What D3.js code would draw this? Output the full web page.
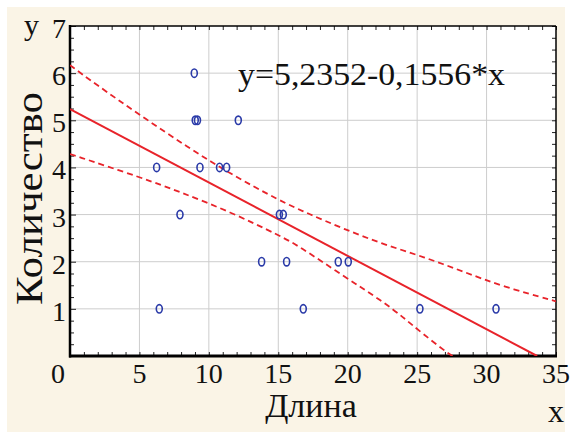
<!DOCTYPE html>
<html><head><meta charset="utf-8">
<script src="https://cdn.jsdelivr.net/npm/d3@7"></script>
<style>html,body{margin:0;padding:0;background:#fff;} svg{display:block}</style>
</head><body>
<script>
// ---- data ----
const pointX = [6.24, 6.43, 7.92, 8.95, 9.02, 9.18, 9.36, 10.77, 11.28, 12.12, 13.8, 15.08, 15.36, 15.6, 16.8, 19.32, 20.04, 25.2, 30.68];
const pointY = [4,    1,    3,    6,    5,    5,    4,    4,     4,     5,     2,    3,     3,     2,    1,    2,     2,     1,    1];
const fitX = [0, 33.64];
const fitY = [5.2352, 0];
const upperX = [0, 1.68, 5.04, 8.52, 11.52, 15.12, 17.16, 19.68, 22.56, 25.5, 28.32, 31.2, 35];
const upperY = [6.17, 5.80, 5.11, 4.42, 3.87, 3.29, 3.02, 2.70, 2.37, 2.10, 1.79, 1.47, 1.16];
const lowerX = [0, 5.28, 7.92, 11.52, 15.12, 16.44, 19.68, 22.56, 24.0, 25.2, 27.37, 28];
const lowerY = [4.285, 3.77, 3.48, 3.06, 2.55, 2.34, 1.70, 1.15, 0.82, 0.52, 0.02, -0.08];
const xTicks = [0, 5, 10, 15, 20, 25, 30, 35];
const yTicks = [1, 2, 3, 4, 5, 6, 7];
const xTickLabels = ["0", "5", "10", "15", "20", "25", "30", "35"];
const yTickLabels = ["1", "2", "3", "4", "5", "6", "7"];
const equationLabel = "y=5,2352-0,1556*x";
const xTitle = "Длина", yTitle = "Количество", xSym = "x", ySym = "y";

// ---- drawing ----
const W = 570, H = 432;
const L = 70, T = 26, R = 556, B = 356;
const svg = d3.select("body").append("svg").attr("width", W).attr("height", H);
const font = "'Liberation Serif','Times New Roman',serif";

svg.append("rect").attr("x", 7).attr("y", 7).attr("width", 558).attr("height", H - 7).attr("fill", "#faf4e6");
svg.append("rect").attr("x", L).attr("y", T).attr("width", R - L).attr("height", B - T).attr("fill", "#fff");

const x = d3.scaleLinear().domain([0, 35]).range([L, R]);
const y = d3.scaleLinear().domain([0, 7]).range([B, T]);

// grid
const grid = svg.append("g").attr("stroke", "#cdcdcd").attr("stroke-width", 1);
grid.selectAll(".gx").data(xTicks.filter(d => d > 0 && d < 35)).join("line")
  .attr("x1", d => x(d)).attr("x2", d => x(d)).attr("y1", T).attr("y2", B);
grid.selectAll(".gy").data(yTicks.filter(d => d < 7)).join("line")
  .attr("y1", d => y(d)).attr("y2", d => y(d)).attr("x1", L).attr("x2", R);

// axes with inward ticks
const xMinor = d3.range(0, 36, 1);
const yMinor = d3.range(0, 7.01, 0.25);
const axB = svg.append("g").attr("transform", `translate(0,${B})`)
  .call(d3.axisTop(x).tickValues(xMinor).tickSize(4).tickFormat(""));
const axT = svg.append("g").attr("transform", `translate(0,${T})`)
  .call(d3.axisBottom(x).tickValues(xMinor).tickSize(4).tickFormat(""));
const axL = svg.append("g").attr("transform", `translate(${L},0)`)
  .call(d3.axisRight(y).tickValues(yMinor).tickSize(4).tickFormat(""));
const axR = svg.append("g").attr("transform", `translate(${R},0)`)
  .call(d3.axisLeft(y).tickValues(yMinor).tickSize(4).tickFormat(""));
[axB, axT, axL, axR].forEach(a => { a.selectAll("line").attr("stroke", "#222").attr("stroke-width", 1); a.select(".domain").remove(); });
axL.selectAll(".tick").filter(d => Number.isInteger(d)).select("line").attr("x2", 6);

svg.append("line").attr("x1", L).attr("x2", R).attr("y1", T).attr("y2", T).attr("stroke", "#000").attr("stroke-width", 1.5);
svg.append("line").attr("x1", R).attr("x2", R).attr("y1", T).attr("y2", B).attr("stroke", "#000").attr("stroke-width", 1.5);
svg.append("line").attr("x1", L).attr("x2", L).attr("y1", T - 1).attr("y2", B + 1.5).attr("stroke", "#000").attr("stroke-width", 2.5);
svg.append("line").attr("x1", L - 1).attr("x2", R + 1).attr("y1", B).attr("y2", B).attr("stroke", "#000").attr("stroke-width", 3);

// clip
svg.append("clipPath").attr("id", "clip").append("rect").attr("x", L).attr("y", T).attr("width", R - L).attr("height", B - T);
const plot = svg.append("g").attr("clip-path", "url(#clip)");
const red = "#e8232a";
const lineGen = d3.line().x(d => x(d[0])).y(d => y(d[1])).curve(d3.curveBasis);
plot.append("path").datum(d3.zip(upperX, upperY)).attr("d", lineGen)
  .attr("fill", "none").attr("stroke", red).attr("stroke-width", 1.8).attr("stroke-dasharray", "6,4");
plot.append("path").datum(d3.zip(lowerX, lowerY)).attr("d", lineGen)
  .attr("fill", "none").attr("stroke", red).attr("stroke-width", 1.8).attr("stroke-dasharray", "6,4");
plot.append("path").datum(d3.zip(fitX, fitY)).attr("d", d3.line().x(d => x(d[0])).y(d => y(d[1])))
  .attr("fill", "none").attr("stroke", red).attr("stroke-width", 2);

// points
plot.selectAll("ellipse").data(d3.zip(pointX, pointY)).join("ellipse")
  .attr("cx", d => x(d[0])).attr("cy", d => y(d[1])).attr("rx", 3).attr("ry", 4.2)
  .attr("fill", "none").attr("stroke", "#2a3aa8").attr("stroke-width", 1.6);

// tick labels
svg.append("g").selectAll("text").data(xTicks).join("text")
  .attr("x", (d, i) => x(d) + (d === 0 ? -12 : 0)).attr("y", 383)
  .attr("text-anchor", "middle").attr("font-family", font).attr("font-size", 28).attr("fill", "#111")
  .text((d, i) => xTickLabels[i]);
svg.append("g").selectAll("text").data(yTicks).join("text")
  .attr("x", 66).attr("y", d => y(d) + 12)
  .attr("text-anchor", "end").attr("font-family", font).attr("font-size", 28).attr("fill", "#111")
  .text((d, i) => yTickLabels[i]);

// titles
svg.append("text").attr("x", 311).attr("y", 417).attr("text-anchor", "middle")
  .attr("font-family", font).attr("font-size", 34).attr("fill", "#111").text(xTitle);
svg.append("text").attr("transform", "translate(42,198.5) rotate(-90)").attr("text-anchor", "middle")
  .attr("font-family", font).attr("font-size", 38).attr("textLength", 213).attr("lengthAdjust", "spacingAndGlyphs")
  .attr("fill", "#111").text(yTitle);
svg.append("text").attr("x", 24).attr("y", 35).attr("font-family", font).attr("font-size", 30).attr("fill", "#111").text(ySym);
svg.append("text").attr("x", 548).attr("y", 422).attr("font-family", font).attr("font-size", 32).attr("fill", "#111").text(xSym);

// equation
svg.append("text").attr("x", 238).attr("y", 85).attr("font-family", font).attr("font-size", 31)
  .attr("textLength", 267).attr("lengthAdjust", "spacingAndGlyphs").attr("fill", "#111").text(equationLabel);
</script>
</body></html>
